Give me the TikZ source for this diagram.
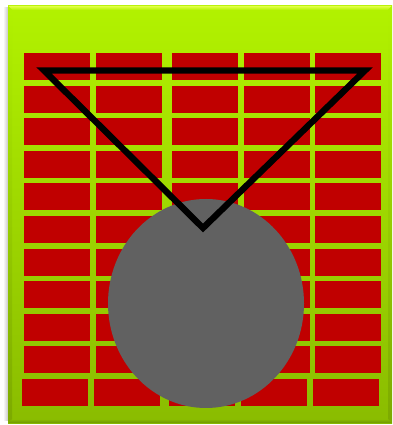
\documentclass[tikz,border=0pt]{standalone}
\usepackage{xcolor}
\usepackage{tikz}
\definecolor{bgtop}{RGB}{178,242,0}
\definecolor{bgbot}{RGB}{138,188,0}
\definecolor{bglight}{RGB}{226,255,70}
\definecolor{bgdark}{RGB}{108,150,0}
\definecolor{brickred}{RGB}{192,0,0}
\definecolor{discgray}{RGB}{97,97,97}
\tikzset{
  wallbase/.style={top color=bgtop, bottom color=bgbot, draw=none},
  bevtop/.style={top color=bglight, bottom color=bgtop, draw=none},
  bevbot/.style={top color=bgbot, bottom color=bgdark, draw=none},
  bevside/.style={top color=bgtop, bottom color=bgbot!90!black, draw=none},
  wallshadow/.style={left color=white, right color=black!22, draw=none},
  brick/.style={fill=brickred, draw=none},
  wedge/.style={line width=3.6pt, draw=black, line join=miter},
  disc/.style={fill=discgray, draw=none},
}
\begin{document}
\begin{tikzpicture}
\useasboundingbox (0,0) rectangle (7.840,8.500);
% background board with bevel
\shade[wallshadow] (0.060,0.080) rectangle (0.160,8.340);
\shade[wallbase] (0.160,0.040) rectangle (7.840,8.380);
\shade[bevtop] (0.160,8.380) -- (7.840,8.380) -- (7.760,8.300) -- (0.240,8.300) -- cycle;
\shade[bevbot] (0.160,0.040) -- (7.840,0.040) -- (7.760,0.120) -- (0.240,0.120) -- cycle;
\shade[bevside] (0.160,0.040) -- (0.160,8.380) -- (0.240,8.300) -- (0.240,0.120) -- cycle;
\shade[bevside] (7.840,0.040) -- (7.840,8.380) -- (7.760,8.300) -- (7.760,0.120) -- cycle;
% bricks
\fill[brick] (0.480,6.900) rectangle ++(1.320,0.540);
\fill[brick] (1.920,6.900) rectangle ++(1.320,0.540);
\fill[brick] (3.440,6.900) rectangle ++(1.320,0.540);
\fill[brick] (4.880,6.900) rectangle ++(1.320,0.540);
\fill[brick] (6.300,6.900) rectangle ++(1.320,0.540);
\fill[brick] (0.480,6.248) rectangle ++(1.320,0.540);
\fill[brick] (1.920,6.248) rectangle ++(1.320,0.540);
\fill[brick] (3.440,6.248) rectangle ++(1.320,0.540);
\fill[brick] (4.880,6.248) rectangle ++(1.320,0.540);
\fill[brick] (6.300,6.248) rectangle ++(1.320,0.540);
\fill[brick] (0.480,5.596) rectangle ++(1.320,0.540);
\fill[brick] (1.920,5.596) rectangle ++(1.320,0.540);
\fill[brick] (3.440,5.596) rectangle ++(1.320,0.540);
\fill[brick] (4.880,5.596) rectangle ++(1.320,0.540);
\fill[brick] (6.300,5.596) rectangle ++(1.320,0.540);
\fill[brick] (0.480,4.944) rectangle ++(1.320,0.540);
\fill[brick] (1.920,4.944) rectangle ++(1.320,0.540);
\fill[brick] (3.440,4.944) rectangle ++(1.320,0.540);
\fill[brick] (4.880,4.944) rectangle ++(1.320,0.540);
\fill[brick] (6.300,4.944) rectangle ++(1.320,0.540);
\fill[brick] (0.480,4.292) rectangle ++(1.320,0.540);
\fill[brick] (1.920,4.292) rectangle ++(1.320,0.540);
\fill[brick] (3.440,4.292) rectangle ++(1.320,0.540);
\fill[brick] (4.880,4.292) rectangle ++(1.320,0.540);
\fill[brick] (6.300,4.292) rectangle ++(1.320,0.540);
\fill[brick] (0.480,3.640) rectangle ++(1.320,0.540);
\fill[brick] (1.920,3.640) rectangle ++(1.320,0.540);
\fill[brick] (3.440,3.640) rectangle ++(1.320,0.540);
\fill[brick] (4.880,3.640) rectangle ++(1.320,0.540);
\fill[brick] (6.300,3.640) rectangle ++(1.320,0.540);
\fill[brick] (0.480,2.988) rectangle ++(1.320,0.540);
\fill[brick] (1.920,2.988) rectangle ++(1.320,0.540);
\fill[brick] (3.440,2.988) rectangle ++(1.320,0.540);
\fill[brick] (4.880,2.988) rectangle ++(1.320,0.540);
\fill[brick] (6.300,2.988) rectangle ++(1.320,0.540);
\fill[brick] (0.480,2.336) rectangle ++(1.320,0.540);
\fill[brick] (1.920,2.336) rectangle ++(1.320,0.540);
\fill[brick] (3.440,2.336) rectangle ++(1.320,0.540);
\fill[brick] (4.880,2.336) rectangle ++(1.320,0.540);
\fill[brick] (6.300,2.336) rectangle ++(1.320,0.540);
\fill[brick] (0.480,1.684) rectangle ++(1.320,0.540);
\fill[brick] (1.920,1.684) rectangle ++(1.320,0.540);
\fill[brick] (3.440,1.684) rectangle ++(1.320,0.540);
\fill[brick] (4.880,1.684) rectangle ++(1.320,0.540);
\fill[brick] (6.300,1.684) rectangle ++(1.320,0.540);
\fill[brick] (0.480,1.032) rectangle ++(1.320,0.540);
\fill[brick] (1.920,1.032) rectangle ++(1.320,0.540);
\fill[brick] (3.440,1.032) rectangle ++(1.320,0.540);
\fill[brick] (4.880,1.032) rectangle ++(1.320,0.540);
\fill[brick] (6.300,1.032) rectangle ++(1.320,0.540);
\fill[brick] (0.440,0.380) rectangle ++(1.320,0.540);
\fill[brick] (1.880,0.380) rectangle ++(1.320,0.540);
\fill[brick] (3.380,0.380) rectangle ++(1.320,0.540);
\fill[brick] (4.820,0.380) rectangle ++(1.320,0.540);
\fill[brick] (6.260,0.380) rectangle ++(1.320,0.540);
% disc, then triangle on top
\fill[disc] (4.120,2.430) ellipse (1.960 and 2.090);
\draw[wedge] (0.880,7.090) -- (7.300,7.090) -- (4.060,3.940) -- cycle;
\end{tikzpicture}
\end{document}
